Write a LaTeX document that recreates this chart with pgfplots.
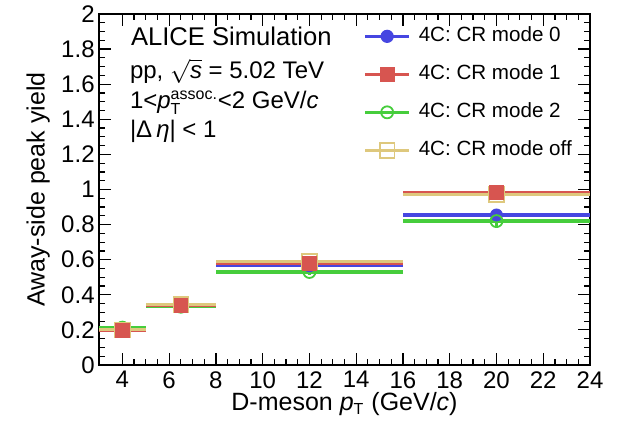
\documentclass[border=0pt]{standalone}
\usepackage{fontspec}
\setmainfont{Liberation Sans}
\usepackage{pgfplots}
\usepackage{pgfplotstable}
\pgfplotsset{compat=1.18}

\definecolor{cblue}{RGB}{70,70,225}
\definecolor{cred}{RGB}{215,85,80}
\definecolor{cgreen}{RGB}{70,205,60}
\definecolor{ctan}{RGB}{222,200,125}

\pgfplotstableread{
x y ex ey
4 0.200 1 0.015
6.5 0.335 1.5 0.010
12 0.565 4 0.012
20 0.855 4 0.030
}\modezero
\pgfplotstableread{
x y ex ey
4 0.197 1 0.020
6.5 0.338 1.5 0.012
12 0.580 4 0.015
20 0.984 4 0.040
}\modeone
\pgfplotstableread{
x y ex ey
4 0.213 1 0.015
6.5 0.332 1.5 0.010
12 0.530 4 0.015
20 0.820 4 0.040
}\modetwo
\pgfplotstableread{
x y ex ey
4 0.200 1 0.020
6.5 0.345 1.5 0.012
12 0.590 4 0.012
20 0.972 4 0.030
}\modeoff

\begin{document}
\begin{tikzpicture}
\begin{axis}[
  at={(0,0)}, anchor=south west,
  scale only axis, width=245.5pt, height=175.5pt,
  xmin=3, xmax=24, ymin=0, ymax=2,
  xtick={4,6,8,10,12,14,16,18,20,22,24},
  ytick={0,0.2,0.4,0.6,0.8,1,1.2,1.4,1.6,1.8,2},
  minor x tick num=3, minor y tick num=3,
  tick align=inside, major tick length=6pt, minor tick length=3pt,
  every tick/.style={black, line width=0.6pt},
  axis line style={line width=0.9pt},
  /pgf/number format/assume math mode=true,
  tick label style={font=\fontsize{12}{14}\selectfont},
  yticklabel style={inner sep=2pt},
  xticklabel style={inner sep=3pt},
  label style={font=\fontsize{12.5}{15}\selectfont},
  ylabel={Away-side peak yield},
  ylabel style={at={(axis description cs:-0.124,0.5)}, anchor=center},
  xlabel={D-meson \textit{p}$_{\hbox{\fontsize{8}{9}\selectfont T}}$ (GeV/\textit{c})},
  xlabel style={at={(axis description cs:0.5,-0.131)}, anchor=base},
  legend image code/.code={\draw[mark repeat=2,mark phase=2,#1] plot coordinates {(0pt,0pt) (11pt,0pt) (22pt,0pt)};},
  legend style={at={(rel axis cs:0.538,0.966)}, anchor=north west, draw=none, fill=none,
    inner sep=0pt, row sep=9pt, column sep=4pt,
    font=\fontsize{10.3}{12}\selectfont,
    nodes={inner sep=0pt, text height=7.5pt, text depth=2.5pt}},
  legend cell align=left,
]
% horizontal (bin width) and vertical error bars
\addplot[forget plot, draw=none, mark=none, error bars/.cd, x dir=both, x explicit, y dir=both, y explicit, error mark=none, error bar style={draw=cblue, line width=1.6pt}] table[x=x,y=y,x error=ex,y error=ey] {\modezero};
\addplot[forget plot, draw=none, mark=none, error bars/.cd, x dir=both, x explicit, y dir=both, y explicit, error mark=none, error bar style={draw=cgreen, line width=1.6pt}] table[x=x,y=y,x error=ex,y error=ey] {\modetwo};
\addplot[forget plot, draw=none, mark=none, error bars/.cd, x dir=both, x explicit, y dir=both, y explicit, error mark=none, error bar style={draw=cred, line width=1.6pt}] table[x=x,y=y,x error=ex,y error=ey] {\modeone};
\addplot[forget plot, draw=none, mark=none, error bars/.cd, x dir=both, x explicit, y dir=both, y explicit, error mark=none, error bar style={draw=ctan, line width=1.6pt}] table[x=x,y=y,x error=ex,y error=ey] {\modeoff};
% markers
\addplot[forget plot, only marks, mark=*, mark size=3pt, cblue] table[x=x,y=y] {\modezero};
\addplot[forget plot, only marks, mark=o, mark size=3pt, cgreen, mark options={line width=0.9pt, fill=white}] table[x=x,y=y] {\modetwo};
\addplot[forget plot, only marks, mark=square, mark size=3.7pt, ctan, mark options={line width=0.9pt}] table[x=x,y=y] {\modeoff};
\addplot[forget plot, only marks, mark=square*, mark size=3.4pt, cred] table[x=x,y=y] {\modeone};
% legend
\addlegendimage{cblue, line width=1.6pt, mark=*, mark size=3pt, mark options={line width=0.6pt}}
\addlegendentry{4C: CR mode 0}
\addlegendimage{cred, line width=1.6pt, mark=square*, mark size=3.4pt, mark options={line width=0.6pt}}
\addlegendentry{4C: CR mode 1}
\addlegendimage{cgreen, line width=1.6pt, mark=o, mark size=3pt, mark options={line width=0.9pt, fill=white}}
\addlegendentry{4C: CR mode 2}
\addlegendimage{ctan, line width=1.6pt, mark=square, mark size=3.7pt, mark options={line width=0.9pt}}
\addlegendentry{4C: CR mode off}
\end{axis}
\node[anchor=base west, inner sep=0pt, font=\fontsize{12.8}{15}\selectfont] at (15.8pt,159.6pt) {ALICE Simulation};
\node[anchor=base west, inner sep=0pt, font=\fontsize{12}{14}\selectfont] at (15.3pt,143pt) {pp, $\sqrt{\hbox{\itshape s}}$ = 5.02 TeV};
\node[anchor=base west, inner sep=0pt, font=\fontsize{12}{14}\selectfont] at (15.3pt,128.3pt) {1<\textit{p}$_{\hbox{\fontsize{8}{9}\selectfont T}}^{\hbox{\fontsize{8}{9}\selectfont assoc.}}$<2 GeV/\textit{c}};
\node[anchor=base west, inner sep=0pt, font=\fontsize{12}{14}\selectfont] at (15.3pt,113.5pt) {|Δ\,\textit{η}| < 1};
\pgfresetboundingbox
\path[use as bounding box] (-49.5pt,-30.5pt) rectangle (260.5pt,182.5pt);
\end{tikzpicture}
\end{document}
